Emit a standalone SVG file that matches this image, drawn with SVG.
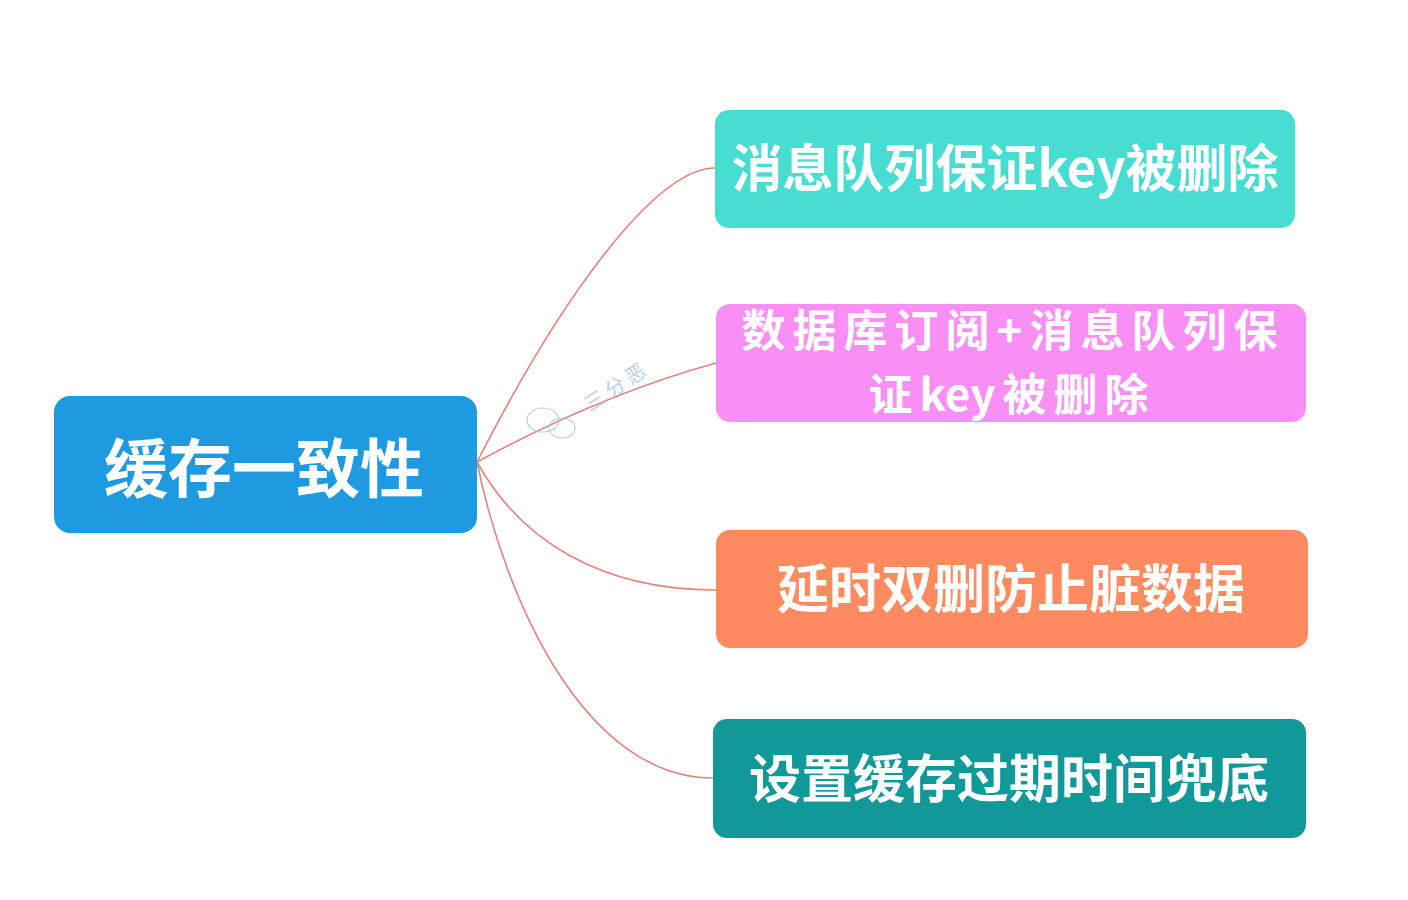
<svg xmlns="http://www.w3.org/2000/svg" width="1408" height="900" viewBox="0 0 1408 900">
  <style>
    .box { stroke: none; }
    .lbl { font-family: "Noto Sans CJK SC", "Liberation Sans", sans-serif; font-weight: 700; fill: #ffffff; text-anchor: middle; dominant-baseline: central; }
    .edge { fill: none; stroke: #e8827f; stroke-width: 1.6; }
    .wm { font-family: "Noto Sans CJK SC", sans-serif; font-size: 20px; fill: #a9c4e6; }
  </style>
  <rect width="1408" height="900" fill="#ffffff"/>
  <g id="connectors">
    <path class="edge" d="M477,462 C570,280 660,168 715,168"/>
    <path class="edge" d="M477,462 Q600,395 716,363"/>
    <path class="edge" d="M477,462 C520,540 600,590 716,590"/>
    <path class="edge" d="M477,462 C505,600 585,778 713,778"/>
  </g>
  <g id="watermark" opacity="0.8">
    <ellipse cx="543" cy="420" rx="16" ry="12" fill="none" stroke="#a9c4e6" stroke-width="1.2"/>
    <ellipse cx="562" cy="428" rx="13" ry="10" fill="none" stroke="#a9c4e6" stroke-width="1.2"/>
    <text class="wm" x="0" y="0" transform="translate(590,412) rotate(-33)">三 分 恶</text>
  </g>
  <g id="root">
    <rect class="box" x="54" y="396" width="423" height="137" rx="16" fill="#1e9be0"/>
    <text class="lbl" x="264" y="464" font-size="64">缓存一致性</text>
  </g>
  <g id="node1">
    <rect class="box" x="715" y="110" width="580" height="118" rx="14" fill="#48ddd3"/>
    <text class="lbl" x="1005" y="165" font-size="51">消息队列保证key被删除</text>
  </g>
  <g id="node2">
    <rect class="box" x="716" y="304" width="590" height="118" rx="14" fill="#f98ef5"/>
    <text class="lbl" x="1013" y="328" font-size="44" letter-spacing="7">数据库订阅+消息队列保</text>
    <text class="lbl" x="1012" y="392" font-size="44"><tspan letter-spacing="7">证</tspan><tspan letter-spacing="0">key</tspan><tspan dx="7" letter-spacing="7">被删除</tspan></text>
  </g>
  <g id="node3">
    <rect class="box" x="716" y="530" width="592" height="118" rx="14" fill="#fd8b5f"/>
    <text class="lbl" x="1011" y="585" font-size="52">延时双删防止脏数据</text>
  </g>
  <g id="node4">
    <rect class="box" x="713" y="719" width="593" height="119" rx="14" fill="#11999a"/>
    <text class="lbl" x="1009" y="775" font-size="52">设置缓存过期时间兜底</text>
  </g>
</svg>
